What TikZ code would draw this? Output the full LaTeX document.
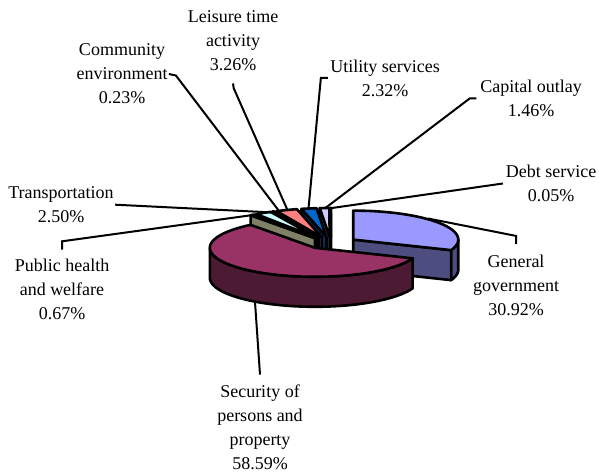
\documentclass[tikz,border=0pt]{standalone}
\usepackage{fontspec}
\setmainfont{Liberation Serif}
\definecolor{topgg}{HTML}{9999FF}
\definecolor{sidegg}{HTML}{4D4D80}
\definecolor{topsec}{HTML}{993366}
\definecolor{sidesec}{HTML}{4D1A33}
\definecolor{topph}{HTML}{FFFFCC}
\definecolor{sideph}{HTML}{808066}
\definecolor{toptrans}{HTML}{CCFFFF}
\definecolor{sidetrans}{HTML}{668080}
\definecolor{topcomm}{HTML}{660066}
\definecolor{sidecomm}{HTML}{330033}
\definecolor{topleis}{HTML}{FF8080}
\definecolor{sideleis}{HTML}{804040}
\definecolor{toputil}{HTML}{0066CC}
\definecolor{sideutil}{HTML}{003366}
\definecolor{topcap}{HTML}{CCCCFF}
\definecolor{sidecap}{HTML}{666680}
\definecolor{topdebt}{HTML}{000080}
\definecolor{sidedebt}{HTML}{000040}
\begin{document}
\begin{tikzpicture}[x=0.5pt, y=0.5pt,
	slice/.style={draw=black, line width=1.3pt, line join=round},
	leader/.style={draw=black, line width=1pt},
	lbl/.style={align=center, inner sep=0pt, font=\fontsize{9}{12}\selectfont}]
	\useasboundingbox (0,0) rectangle (599,475);
	% small slices at the back, from 90 deg outwards
	\foreach \sa/\sb/\col in {90/90.18/debt, 90.18/95.436/cap, 95.436/103.788/util, 103.788/115.524/leis, 115.524/116.352/comm, 116.352/125.352/trans, 125.352/127.764/ph}
	{
		\pgfmathsetmacro\bis{(\sa+\sb)/2}
		\begin{scope}[shift={({331+27*cos(\bis)},{232+6*sin(\bis)})}]
			\filldraw[slice, fill=side\col] (0,0) -- ({105*cos(\sb)},{29*sin(\sb)}) -- ++(0,-30) -- (0,-30) -- cycle;
			\filldraw[slice, fill=top\col] (0,0) -- plot[domain=\sa:\sb, samples=8] ({105*cos(\x)},{29*sin(\x)}) -- cycle;
		\end{scope}
	}
	% general government
	\begin{scope}[shift={({331+27*cos(34.344)},{232+6*sin(34.344)})}]
		\filldraw[slice, fill=sidegg] plot[domain=-21.312:0, samples=10] ({105*cos(\x)},{29*sin(\x)}) -- plot[domain=0:-21.312, samples=10] ({105*cos(\x)},{29*sin(\x)-30}) -- cycle;
		\filldraw[slice, fill=sidegg] (0,0) -- ({105*cos(-21.312)},{29*sin(-21.312)}) -- ++(0,-30) -- (0,-30) -- cycle;
		\filldraw[slice, fill=topgg] (0,0) -- plot[domain=-21.312:90, samples=40] ({105*cos(\x)},{29*sin(\x)}) -- cycle;
	\end{scope}
	% security of persons and property
	\begin{scope}[shift={({331+27*cos(233.226)},{232+6*sin(233.226)})}]
		\filldraw[slice, fill=sidesec] plot[domain=180:338.688, samples=50] ({105*cos(\x)},{29*sin(\x)}) -- plot[domain=338.688:180, samples=50] ({105*cos(\x)},{29*sin(\x)-30}) -- cycle;
		\filldraw[slice, fill=topsec] (0,0) -- plot[domain=127.764:338.688, samples=60] ({105*cos(\x)},{29*sin(\x)}) -- cycle;
	\end{scope}
	% labels
	\node[lbl] (leis) at (233,434) {Leisure time\\activity\\3.26\%};
	\node[lbl] (comm) at (122,401) {Community\\environment\\0.23\%};
	\node[lbl] (util) at (385,397) {Utility services\\2.32\%};
	\node[lbl] (cap) at (531,376.5) {Capital outlay\\1.46\%};
	\node[lbl] (debt) at (551,291.5) {Debt service\\0.05\%};
	\node[lbl] (trans) at (61,270.3) {Transportation\\2.50\%};
	\node[lbl] (ph) at (62,186) {Public health\\and welfare\\0.67\%};
	\node[lbl] (gg) at (516,190) {General\\government\\30.92\%};
	\node[lbl] (sec) at (260,47.5) {Security of\\persons and\\property\\58.59\%};
	% leader ends
	\coordinate (p-leis) at (287,266);
	\coordinate (p-comm) at (279,264);
	\coordinate (p-util) at (308.5,266.5);
	\coordinate (p-cap) at (325,266.7);
	\coordinate (p-debt) at (330,266.7);
	\coordinate (p-trans) at (273,262.5);
	\coordinate (p-ph) at (253,260);
	\coordinate (p-gg) at (428,256.5);
	\coordinate (p-sec) at (255,173);
	\draw[leader] (leis.south) ++(0,-12) -- ++(0.7,-4.7) -- (p-leis);
	\draw[leader] (comm.east) ++(1,0) -- ++(7,-1.5) -- (p-comm);
	\draw[leader] (util.west) ++(-2,0) -- ++(-7,0) -- (p-util);
	\draw[leader] (cap.west) ++(-3.5,0) -- ++(-6.7,0) -- (p-cap);
	\draw[leader] (debt.west) ++(-2.5,0) -- (p-debt);
	\draw[leader] (trans.east) ++(1,0) -- (p-trans);
	\draw[leader] (ph.north) ++(0,8.6) -- ++(0,8.3) -- (p-ph);
	\draw[leader] (gg.north) ++(0,10) -- ++(0,8.3) -- (p-gg);
	\draw[leader] (sec.north) ++(0,10) -- (p-sec);
\end{tikzpicture}
\end{document}
